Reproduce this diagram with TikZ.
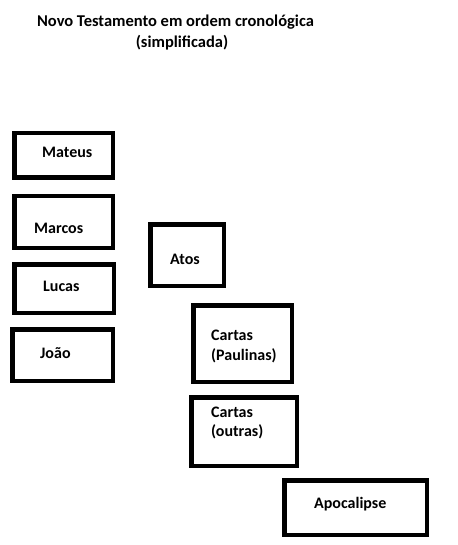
\documentclass[tikz,border=0pt]{standalone}
\usepackage{fontspec}
\setmainfont{Carlito}
\usepackage{tikz}
\usetikzlibrary{positioning}

\begin{document}
\begin{tikzpicture}[
    x=1pt, y=-1pt,
    every node/.style={font=\bfseries\fontsize{16}{19.5}\selectfont},
    book/.style={draw, line width=4.5pt, inner sep=0pt},
    lbl/.style={anchor=west, inner sep=0pt, align=left}
]
    \useasboundingbox (0,0) rectangle (457,545);

    % Title
    \node[font=\bfseries\fontsize{16.5}{20}\selectfont] (title) at (175.5,22) {Novo Testamento em ordem cronol\'ogica};
    \node[font=\bfseries\fontsize{16.5}{20}\selectfont] (subtitle) at (182,43) {(simplificada)};

    % Gospels
    \node[book, minimum width=98.5pt, minimum height=44.5pt] (mateus) at (63.5,155.5) {};
    \node[book, minimum width=98.5pt, minimum height=51.5pt] (marcos) at (63.5,222) {};
    \node[book, minimum width=99.5pt, minimum height=48.5pt] (lucas) at (64,288.5) {};
    \node[book, minimum width=100.5pt, minimum height=51.5pt] (joao) at (62.5,355) {};
    \node[lbl] (mateusL) at (42,152) {Mateus};
    \node[lbl] (marcosL) at (34,228) {Marcos};
    \node[lbl] (lucasL) at (43,286) {Lucas};
    \node[lbl] (joaoL) at (40,353) {João};

    % Atos and letters
    \node[book, minimum width=73.5pt, minimum height=61.5pt] (atos) at (187,255) {};
    \node[lbl] (atosL) at (170,259) {Atos};
    \node[book, minimum width=98.5pt, minimum height=76.5pt] (paulinas) at (242.5,343.5) {};
    \node[lbl] (paulinasL) at (211,346.5) {Cartas\\(Paulinas)};
    \node[book, minimum width=105.5pt, minimum height=68.5pt] (outras) at (244,431.5) {};
    \node[lbl] (outrasL) at (211,423) {Cartas\\(outras)};

    % Apocalipse
    \node[book, minimum width=142.5pt, minimum height=54.5pt] (apoc) at (355.5,507.5) {};
    \node[lbl] (apocL) at (314,504) {Apocalipse};
\end{tikzpicture}
\end{document}
